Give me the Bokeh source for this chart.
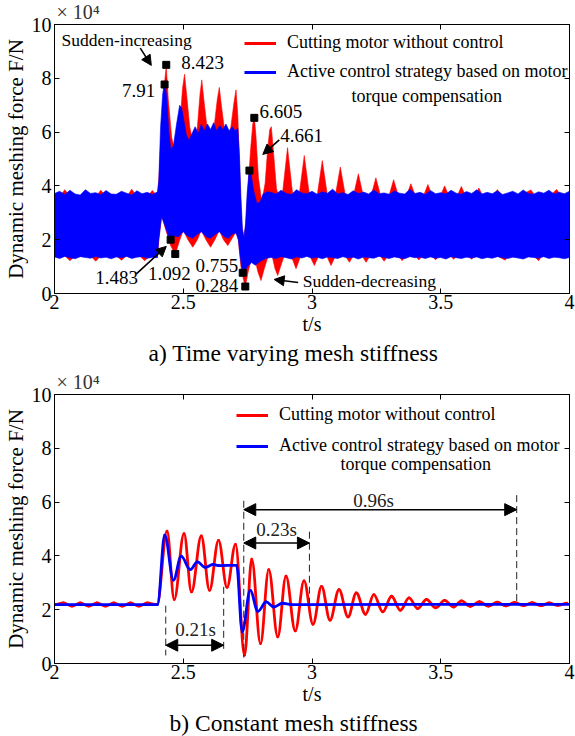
import numpy as np
from bokeh.plotting import figure
from bokeh.layouts import column
from bokeh.models import (Range1d, FixedTicker, LinearAxis, Legend, LegendItem, Label,
                          Arrow, NormalHead, Title, CustomLabelingPolicy, ColumnDataSource)
from bokeh.embed import file_html
from bokeh.resources import INLINE

FONT = "Liberation Serif"
RED = "#ff0000"
BLUE = "#0000ff"

x_ticks = [2, 2.5, 3, 3.5, 4]
x_tick_labels = ["2", "2.5", "3", "3.5", "4"]
y_ticks = [0, 2, 4, 6, 8, 10]

# ================= panel a: envelopes of the dense force signal (x1e4 N) =================
# blue (with control) upper envelope
ba_up_t1 = list(np.linspace(2.0, 2.40, 21))
ba_up_f1 = [3.72, 3.80, 3.68, 3.84, 3.70, 3.66, 3.86, 3.72, 3.75, 3.67, 3.83, 3.70, 3.69, 3.80,
            3.73, 3.66, 3.82, 3.71, 3.76, 3.68, 3.78]
ba_up_t2 = [2.405, 2.412, 2.420, 2.428, 2.436, 2.444, 2.452, 2.462, 2.474, 2.486, 2.494, 2.503,
            2.512, 2.522, 2.534, 2.546, 2.558, 2.570, 2.582, 2.594, 2.606, 2.618, 2.630, 2.642,
            2.654, 2.666, 2.678, 2.690, 2.702, 2.712, 2.718, 2.724, 2.730, 2.736, 2.742, 2.748,
            2.756, 2.764, 2.774, 2.786, 2.798, 2.810, 2.825]
ba_up_f2 = [4.2, 6.2, 7.4, 7.9, 7.3, 6.0, 5.35, 5.5, 6.3, 7.0, 6.9, 6.4,
            5.9, 5.7, 5.95, 6.2, 5.95, 6.3, 6.05, 6.3, 6.1, 6.35, 6.05, 6.25,
            6.1, 6.3, 6.05, 6.2, 6.05, 6.15, 5.2, 3.6, 2.4, 2.1, 2.6, 3.7,
            4.6, 4.4, 3.8, 3.35, 3.4, 3.7, 3.78]
ba_up_t3 = list(np.linspace(2.84, 4.0, 59))
ba_up_f3 = [3.76, 3.70, 3.84, 3.72, 3.68, 3.86, 3.74, 3.71, 3.80, 3.69, 3.78, 3.73, 3.88, 3.70,
            3.75, 3.68, 3.82, 3.72, 3.77, 3.70, 3.85, 3.71, 3.74, 3.69, 3.81, 3.73, 3.70, 3.87,
            3.72, 3.76, 3.68, 3.83, 3.71, 3.75, 3.70, 3.84, 3.73, 3.69, 3.79, 3.72, 3.86, 3.70,
            3.76, 3.71, 3.82, 3.68, 3.74, 3.80, 3.70, 3.85, 3.72, 3.69, 3.78, 3.73, 3.84, 3.70,
            3.76, 3.71, 3.80]
# blue lower envelope
ba_lo_t1 = list(np.linspace(2.0, 2.40, 21))
ba_lo_f1 = [1.36, 1.30, 1.38, 1.33, 1.29, 1.37, 1.34, 1.31, 1.38, 1.32, 1.35, 1.29, 1.36, 1.33,
            1.38, 1.30, 1.35, 1.37, 1.31, 1.34, 1.33]
ba_lo_t2 = [2.405, 2.416, 2.426, 2.440, 2.451, 2.465, 2.480, 2.500, 2.515, 2.535, 2.555, 2.570,
            2.590, 2.605, 2.625, 2.640, 2.660, 2.675, 2.690, 2.705, 2.714, 2.722, 2.731, 2.740,
            2.750, 2.765, 2.780, 2.800, 2.820]
ba_lo_f2 = [2.0, 2.85, 2.6, 2.2, 2.0, 2.15, 2.1, 2.3, 2.15, 2.05, 2.2, 2.3,
            2.1, 2.05, 2.2, 2.3, 2.1, 2.05, 2.2, 2.25, 2.0, 1.3, 0.76, 0.85,
            1.0, 1.15, 1.05, 1.2, 1.3]
ba_lo_t3 = list(np.linspace(2.84, 4.0, 59))
ba_lo_f3 = [1.34, 1.30, 1.37, 1.33, 1.28, 1.36, 1.32, 1.38, 1.31, 1.35, 1.29, 1.36, 1.33, 1.30,
            1.37, 1.32, 1.35, 1.28, 1.36, 1.33, 1.31, 1.38, 1.34, 1.30, 1.36, 1.32, 1.29, 1.37,
            1.33, 1.35, 1.30, 1.36, 1.31, 1.34, 1.28, 1.37, 1.33, 1.30, 1.35, 1.32, 1.36, 1.29,
            1.34, 1.31, 1.37, 1.33, 1.30, 1.35, 1.32, 1.28, 1.36, 1.34, 1.31, 1.37, 1.30, 1.35,
            1.33, 1.29, 1.34]

# red (without control) upper envelope
ra_up_t1 = list(np.linspace(2.0, 2.40, 21))
ra_up_f1 = [3.60, 3.60, 3.86, 3.60, 3.60, 3.60, 3.60, 3.60, 3.60, 3.84, 3.60, 3.60, 3.60, 3.60,
            3.60, 3.88, 3.60, 3.60, 3.60, 3.83, 3.60]
ra_up_t2 = [2.405, 2.418, 2.428, 2.434, 2.442, 2.455, 2.470, 2.485, 2.497, 2.505, 2.513, 2.525,
            2.540, 2.555, 2.565, 2.572, 2.580, 2.592, 2.605, 2.620, 2.632, 2.640, 2.648, 2.660,
            2.672, 2.685, 2.697, 2.705, 2.712, 2.718, 2.726, 2.734, 2.742, 2.752, 2.762, 2.770,
            2.776, 2.782, 2.792, 2.805, 2.818, 2.828, 2.836, 2.842, 2.850, 2.862, 2.875]
ra_up_f2 = [4.2, 6.5, 7.9, 8.45, 7.2, 5.8, 5.2, 6.0, 7.6, 8.15, 7.4, 6.2,
            5.5, 6.2, 7.4, 7.94, 7.2, 6.2, 5.5, 6.2, 7.2, 7.66, 7.0, 6.1,
            5.5, 6.2, 7.1, 7.57, 6.6, 4.8, 2.6, 2.0, 2.5, 4.0, 5.4, 6.3,
            6.55, 5.9, 4.3, 3.4, 4.1, 5.4, 6.1, 6.2, 5.3, 3.9, 3.4]
ra_up_t3 = [2.883, 2.905, 2.927, 2.948, 2.970, 2.992, 3.018, 3.040, 3.062, 3.088, 3.110, 3.132,
            3.158, 3.180, 3.202, 3.226, 3.248, 3.270, 3.295, 3.317, 3.339, 3.362, 3.384, 3.406,
            3.428, 3.450, 3.472, 3.493, 3.515, 3.537, 3.558, 3.580, 3.602, 3.626, 3.648, 3.670,
            3.700, 3.720, 3.740, 3.800, 3.850, 3.870, 3.920, 3.950, 3.970, 4.000]
ra_up_f3 = [3.5, 5.42, 3.5, 3.5, 5.13, 3.5, 3.5, 4.94, 3.5, 3.5, 4.70, 3.5,
            3.5, 4.45, 3.5, 3.5, 4.30, 3.5, 3.5, 4.23, 3.5, 3.5, 4.08, 3.5,
            3.5, 4.05, 3.5, 3.5, 4.00, 3.5, 3.5, 3.98, 3.5, 3.5, 3.92, 3.5,
            3.6, 3.86, 3.6, 3.6, 3.85, 3.6, 3.6, 3.87, 3.6, 3.6]
# red lower envelope
ra_lo_t1 = [2.00, 2.04, 2.06, 2.08, 2.14, 2.16, 2.18, 2.24, 2.26, 2.28, 2.33, 2.35, 2.37, 2.40]
ra_lo_f1 = [1.40, 1.40, 1.22, 1.40, 1.40, 1.20, 1.40, 1.40, 1.24, 1.40, 1.40, 1.22, 1.40, 1.40]
ra_lo_t2 = [2.405, 2.416, 2.428, 2.450, 2.469, 2.485, 2.500, 2.518, 2.537, 2.555, 2.570, 2.588,
            2.606, 2.623, 2.640, 2.656, 2.673, 2.690, 2.705, 2.714, 2.724, 2.733, 2.741, 2.752,
            2.765, 2.778, 2.790, 2.802, 2.814, 2.830, 2.845, 2.857, 2.867, 2.878, 2.895, 2.915,
            2.938, 2.960]
ra_lo_f2 = [2.0, 2.9, 2.5, 1.8, 1.45, 1.95, 2.35, 2.0, 1.72, 2.0, 2.35, 2.0,
            1.72, 2.0, 2.35, 2.0, 1.78, 2.05, 2.3, 2.0, 1.0, 0.55, 0.26, 0.8,
            1.3, 1.3, 0.8, 0.48, 0.9, 1.4, 1.4, 0.9, 0.67, 1.0, 1.5, 1.5,
            0.92, 1.5]
ra_lo_t3 = [2.987, 3.009, 3.031, 3.052, 3.074, 3.096, 3.123, 3.145, 3.167, 3.188, 3.210, 3.232,
            3.258, 3.280, 3.302, 3.328, 3.350, 3.372, 3.393, 3.415, 3.437, 3.458, 3.480, 3.502,
            3.528, 3.550, 3.572, 3.598, 3.620, 3.642, 3.700, 3.750, 3.770, 3.850, 3.880, 3.900,
            4.000]
ra_lo_f3 = [1.5, 1.04, 1.5, 1.5, 1.04, 1.5, 1.5, 1.16, 1.5, 1.5, 1.16, 1.5,
            1.5, 1.20, 1.5, 1.5, 1.22, 1.5, 1.5, 1.25, 1.5, 1.5, 1.25, 1.5,
            1.5, 1.27, 1.5, 1.5, 1.27, 1.5, 1.5, 1.24, 1.5, 1.5, 1.22, 1.5,
            1.5]

# marked points of panel a
mark_t = [2.434, 2.4275, 2.776, 2.757, 2.451, 2.469, 2.731, 2.741]
mark_f = [8.50, 7.77, 6.53, 4.57, 2.00, 1.47, 0.77, 0.26]
mark_text = ["8.423", "7.91", "6.605", "4.661", "1.483", "1.092", "0.755", "0.284"]
mark_lbl_t = [2.492, 2.391, 2.796, 2.877, 2.324, 2.363, 2.714, 2.714]
mark_lbl_f = [8.60, 7.55, 6.78, 5.87, 0.61, 0.755, 1.04, 0.30]
mark_lbl_align = ["left", "right", "left", "left", "right", "left", "right", "right"]

note_text = ["Sudden-increasing", "Sudden-decreasing"]
note_t = [2.027, 2.964]
note_f = [9.41, 0.48]
ptr_t0 = [2.333, 2.873, 2.318, 2.946]
ptr_f0 = [9.12, 5.71, 0.73, 0.41]
ptr_t1 = [2.376, 2.809, 2.434, 2.853]
ptr_f1 = [8.48, 5.17, 1.75, 0.52]

# ================= panel b: extrema of the force curves (x1e4 N) =================
rb_t = [2.000, 2.035, 2.068, 2.100, 2.133, 2.165, 2.198, 2.230, 2.263, 2.295, 2.328, 2.360, 2.398,
        2.437, 2.465, 2.503, 2.532, 2.570, 2.602, 2.637, 2.670, 2.703, 2.738,
        2.766, 2.800, 2.832, 2.867, 2.899, 2.935, 2.969, 3.004, 3.037, 3.070, 3.105, 3.140,
        3.172, 3.208, 3.240, 3.275, 3.309, 3.343, 3.377, 3.410, 3.445, 3.480, 3.515, 3.550,
        3.580, 3.615, 3.650, 3.685, 3.720, 3.752, 3.787, 3.820, 3.855, 3.890, 3.920, 3.955,
        3.990]
rb_f = [2.19, 2.25, 2.13, 2.25, 2.13, 2.25, 2.13, 2.25, 2.13, 2.25, 2.13, 2.25, 2.19,
        4.92, 2.38, 4.83, 2.66, 4.74, 2.72, 4.58, 2.83, 4.43, 0.31,
        3.88, 0.74, 3.49, 0.99, 3.25, 1.21, 3.07, 1.46, 2.87, 1.61, 2.75, 1.73,
        2.62, 1.83, 2.56, 1.92, 2.50, 1.98, 2.44, 2.04, 2.38, 2.07, 2.35, 2.10,
        2.33, 2.12, 2.30, 2.13, 2.28, 2.14, 2.27, 2.15, 2.26, 2.15, 2.25, 2.16,
        2.24]
bb_t = [2.000, 2.400, 2.428, 2.462, 2.492, 2.527, 2.555, 2.585, 2.615, 2.640, 2.707,
        2.729, 2.760, 2.790, 2.822, 2.852, 2.885, 2.920, 4.000]
bb_f = [2.19, 2.19, 4.77, 3.10, 3.99, 3.49, 3.78, 3.57, 3.68, 3.64, 3.65,
        1.18, 2.72, 1.94, 2.29, 2.10, 2.24, 2.19, 2.20]

dim_t0 = [2.432, 2.735, 2.735]
dim_t1 = [2.657, 2.990, 3.795]
dim_f = [0.68, 4.48, 5.72]
dim_text = ["0.21s", "0.23s", "0.96s"]
dim_text_t = [2.548, 2.862, 3.239]
dim_text_f = [1.27, 4.98, 6.05]
guide_t = [2.432, 2.657, 2.735, 2.990, 3.795]
guide_f0 = [2.15, 2.85, 6.05, 4.90, 6.26]
guide_f1 = [0.30, 0.40, 0.22, 2.25, 2.25]


def style_axis(ax, labels=True):
    ax.axis_line_color = "black"
    ax.axis_line_width = 1
    ax.major_tick_line_color = "black"
    ax.major_tick_in = 5
    ax.major_tick_out = 0
    ax.minor_tick_line_color = None
    ax.major_label_text_font = FONT
    ax.major_label_text_font_size = "20px"
    ax.major_label_text_color = "black"
    if not labels:
        ax.major_label_policy = CustomLabelingPolicy(
            code="for (const i of indices) indices.unset(i); return indices")
        ax.major_label_text_font_size = "1px"
        ax.major_label_standoff = 0


def base_fig(height, border_top, border_bottom, title_text, title_offset):
    p = figure(width=575, height=height, x_range=Range1d(2, 4), y_range=Range1d(0, 10),
               output_backend="svg", toolbar_location=None,
               min_border_left=53, min_border_right=6,
               min_border_top=border_top, min_border_bottom=border_bottom)
    p.grid.visible = False
    p.outline_line_color = "black"
    xa = p.xaxis[0]
    ya = p.yaxis[0]
    xa.ticker = FixedTicker(ticks=x_ticks)
    xa.major_label_overrides = {float(k): v for k, v in zip(x_ticks, x_tick_labels)}
    ya.ticker = FixedTicker(ticks=y_ticks)
    style_axis(xa)
    style_axis(ya)
    xa.major_label_standoff = 1
    ya.major_label_standoff = 3
    xa.axis_label = "t/s"
    ya.axis_label = "Dynamic meshing force F/N"
    for ax in (xa, ya):
        ax.axis_label_text_font = FONT
        ax.axis_label_text_font_style = "normal"
        ax.axis_label_text_color = "black"
        ax.axis_label_standoff = 1
    xa.axis_label_text_font_size = "20px"
    ya.axis_label_text_font_size = "21px"
    top = LinearAxis(ticker=FixedTicker(ticks=x_ticks))
    right = LinearAxis(ticker=FixedTicker(ticks=y_ticks))
    style_axis(top, labels=False)
    style_axis(right, labels=False)
    p.add_layout(top, "above")
    p.add_layout(right, "right")
    p.add_layout(Title(text="\u00d7 10\u2074", align="left", offset=2, text_font=FONT,
                       text_font_size="20px", text_font_style="normal", text_color="#333333",
                       standoff=-4), "above")
    p.add_layout(Title(text=title_text, align="left", offset=title_offset, text_font=FONT,
                       text_font_size="23.5px", text_font_style="normal", text_color="black",
                       standoff=0), "below")
    return p


def legend_for(p, loc, spacing, second_line_t, second_line_f):
    r1 = p.line(x=np.array([np.nan]), y=np.array([np.nan]), line_color=RED, line_width=3)
    r2 = p.line(x=np.array([np.nan]), y=np.array([np.nan]), line_color=BLUE, line_width=3)
    lg = Legend(items=[LegendItem(label="Cutting motor without control", renderers=[r1]),
                       LegendItem(label="Active control strategy based on motor", renderers=[r2])],
                location=loc, border_line_color=None, background_fill_alpha=0,
                label_text_font=FONT, label_text_font_size="18px", label_text_color="black",
                glyph_width=32, glyph_height=20, label_height=20, label_standoff=11,
                spacing=spacing, padding=0, margin=0)
    p.add_layout(lg)
    p.add_layout(Label(x=second_line_t, y=second_line_f, text="torque compensation",
                       text_font=FONT, text_font_size="18px", text_align="center",
                       text_baseline="middle", text_color="black"))


# ---------------- panel a ----------------
pa = base_fig(370, 24, 77, "a) Time varying mesh stiffness", 94)
ra_up_t = ra_up_t1 + ra_up_t2 + ra_up_t3
ra_up_f = ra_up_f1 + ra_up_f2 + ra_up_f3
ra_lo_t = ra_lo_t1 + ra_lo_t2 + ra_lo_t3
ra_lo_f = ra_lo_f1 + ra_lo_f2 + ra_lo_f3
ba_up_t = ba_up_t1 + ba_up_t2 + ba_up_t3
ba_up_f = ba_up_f1 + ba_up_f2 + ba_up_f3
ba_lo_t = ba_lo_t1 + ba_lo_t2 + ba_lo_t3
ba_lo_f = ba_lo_f1 + ba_lo_f2 + ba_lo_f3
pa.patch(x=ra_up_t + ra_lo_t[::-1], y=ra_up_f + ra_lo_f[::-1],
         fill_color=RED, line_color=RED, line_width=0.6)
pa.patch(x=ba_up_t + ba_lo_t[::-1], y=ba_up_f + ba_lo_f[::-1],
         fill_color=BLUE, line_color=BLUE, line_width=0.6)
pa.scatter(x=mark_t, y=mark_f, marker="square", size=7, color="black")
for s, t, f, al in zip(mark_text, mark_lbl_t, mark_lbl_f, mark_lbl_align):
    pa.add_layout(Label(x=t, y=f, text=s, text_align=al, text_baseline="middle",
                        text_font=FONT, text_font_size="19px", text_color="black"))
for s, t, f in zip(note_text, note_t, note_f):
    pa.add_layout(Label(x=t, y=f, text=s, text_align="left", text_baseline="middle",
                        text_font=FONT, text_font_size="17.5px", text_color="black"))
pa.add_layout(Arrow(end=NormalHead(size=10, fill_color="black", line_color="black"),
                    source=ColumnDataSource(dict(x0=ptr_t0, y0=ptr_f0, x1=ptr_t1, y1=ptr_f1)),
                    x_start="x0", y_start="y0", x_end="x1", y_end="y1",
                    line_color="black", line_width=1.6))
legend_for(pa, (190, 211), 8, 3.446, 7.36)

# ---------------- panel b ----------------
pb = base_fig(366, 24, 73, "b) Constant mesh stiffness", 115)


def bez(xs, ys, k=0.3642):
    xs = np.asarray(xs, float)
    ys = np.asarray(ys, float)
    x0, x1, y0, y1 = xs[:-1], xs[1:], ys[:-1], ys[1:]
    dx = x1 - x0
    return dict(x0=x0, y0=y0, x1=x1, y1=y1, cx0=x0 + k * dx, cy0=y0, cx1=x1 - k * dx, cy1=y1)


pb.bezier(source=ColumnDataSource(bez(rb_t, rb_f)), x0="x0", y0="y0", x1="x1", y1="y1",
          cx0="cx0", cy0="cy0", cx1="cx1", cy1="cy1", line_color=RED, line_width=2.8,
          line_cap="round")
pb.bezier(source=ColumnDataSource(bez(bb_t, bb_f)), x0="x0", y0="y0", x1="x1", y1="y1",
          cx0="cx0", cy0="cy0", cx1="cx1", cy1="cy1", line_color=BLUE, line_width=2.8,
          line_cap="round")
pb.segment(x0=guide_t, y0=guide_f0, x1=guide_t, y1=guide_f1, line_color="#222222",
           line_width=1, line_dash="7 4")
pb.add_layout(Arrow(start=NormalHead(size=12, fill_color="black", line_color="black"),
                    end=NormalHead(size=12, fill_color="black", line_color="black"),
                    source=ColumnDataSource(dict(x0=dim_t0, y0=dim_f, x1=dim_t1, y1=dim_f)),
                    x_start="x0", y_start="y0", x_end="x1", y_end="y1",
                    line_color="black", line_width=1.5))
for s, t, f in zip(dim_text, dim_text_t, dim_text_f):
    pb.add_layout(Label(x=t, y=f, text=s, text_align="center", text_baseline="middle",
                        text_font=FONT, text_font_size="19px", text_color="#222222"))
legend_for(pb, (182, 207), 10, 3.403, 7.43)

layout = column(pa, pb, spacing=0)
open("out.html", "w").write(file_html(layout, INLINE))
